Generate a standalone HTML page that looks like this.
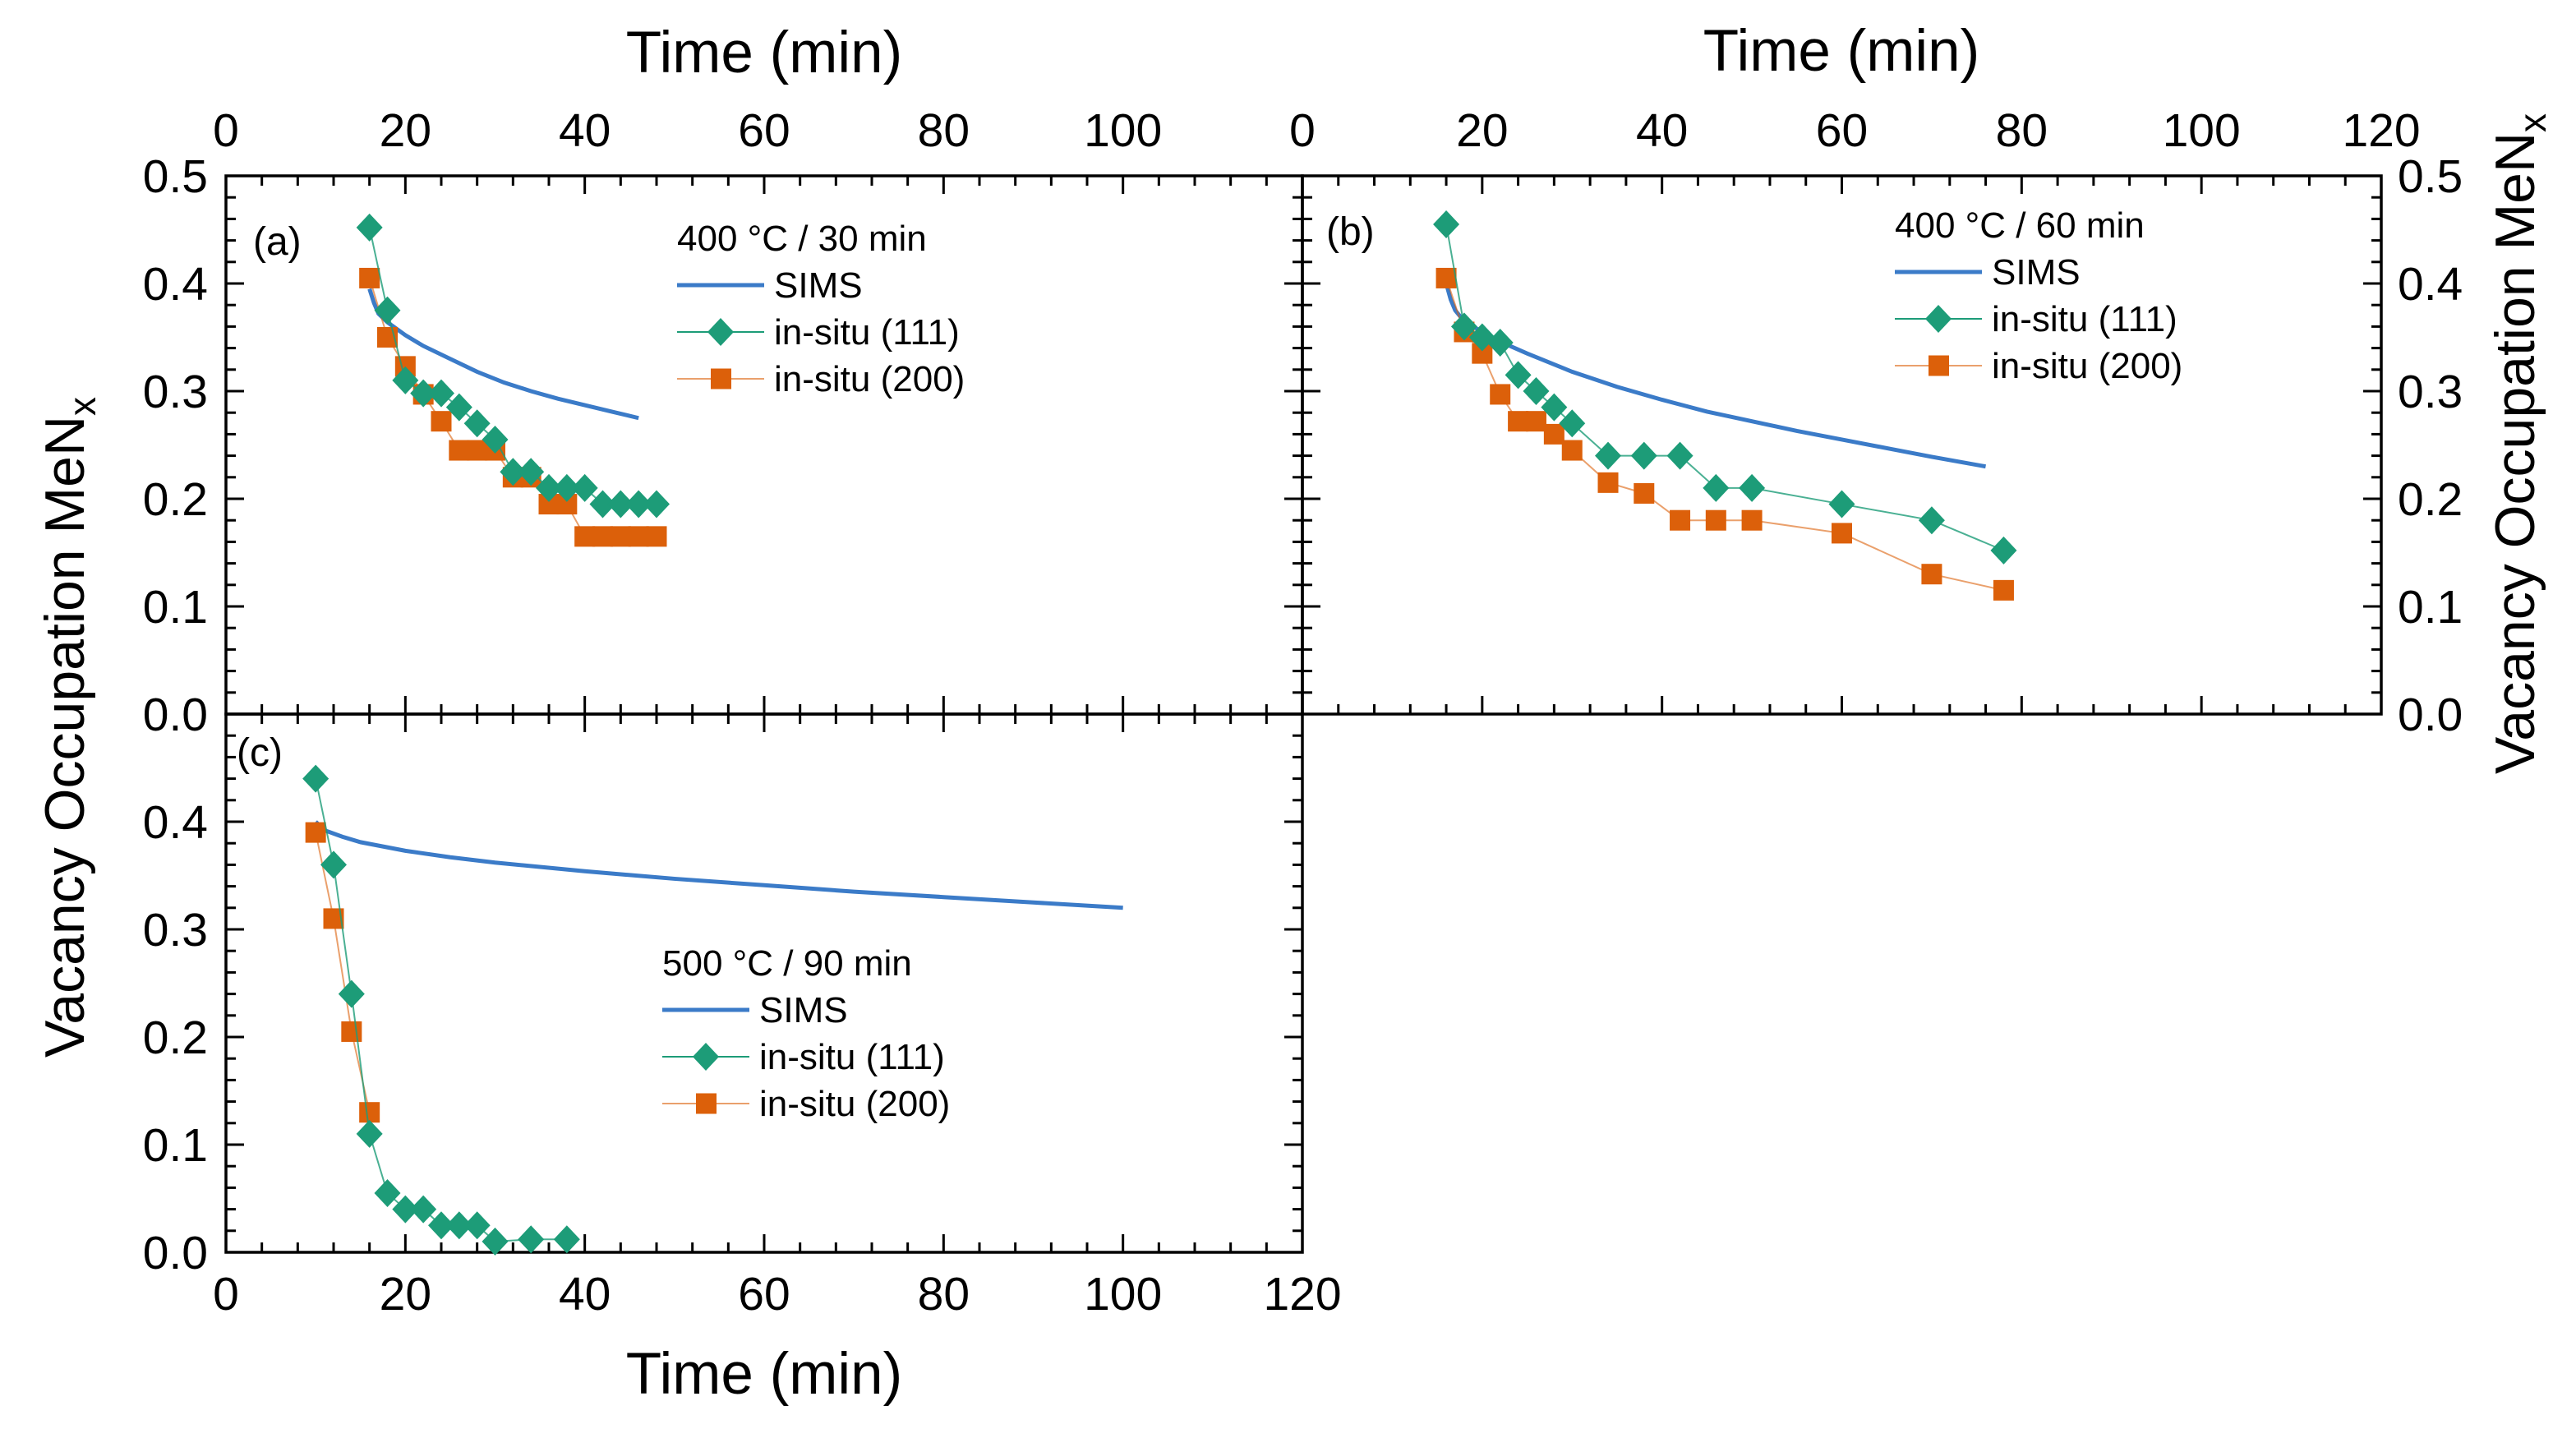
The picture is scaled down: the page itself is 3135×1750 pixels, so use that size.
<!DOCTYPE html>
<html><head><meta charset="utf-8">
<style>
html,body{margin:0;padding:0;background:#fff;}
svg{display:block;font-family:"Liberation Sans",Arial,sans-serif;}
</style></head>
<body>
<svg id="chart" width="3135" height="1750" viewBox="0 0 3135 1750" xmlns="http://www.w3.org/2000/svg">
<g id="root"></g>
</svg>
<script>
// ---- data ----
const aT111=[16,18,20,22,24,26,28,30,32,34,36,38,40,42,44,46,48];
const aY111=[0.452,0.375,0.31,0.298,0.298,0.285,0.27,0.255,0.225,0.225,0.21,0.21,0.21,0.195,0.195,0.195,0.195];
const aT200=[16,18,20,22,24,26,28,30,32,34,36,38,40,42,44,46,48];
const aY200=[0.405,0.35,0.323,0.297,0.272,0.245,0.245,0.245,0.22,0.22,0.195,0.195,0.165,0.165,0.165,0.165,0.165];
const aTs=[16,16.5,17,18,20,22,25,28,31,34,37,40,43,46];
const aYs=[0.395,0.382,0.372,0.364,0.352,0.342,0.330,0.318,0.308,0.300,0.293,0.287,0.281,0.275];

const bT111=[16,18,20,22,24,26,28,30,34,38,42,46,50,60,70,78];
const bY111=[0.455,0.36,0.35,0.345,0.315,0.30,0.285,0.27,0.24,0.24,0.24,0.21,0.21,0.195,0.18,0.152];
const bT200=[16,18,20,22,24,26,28,30,34,38,42,46,50,60,70,78];
const bY200=[0.405,0.355,0.335,0.297,0.272,0.272,0.26,0.245,0.215,0.205,0.18,0.18,0.18,0.168,0.13,0.115];
const bTs=[16,16.5,17,18,20,22,25,30,35,40,45,50,55,60,65,70,76];
const bYs=[0.40,0.385,0.375,0.365,0.355,0.346,0.335,0.318,0.304,0.292,0.281,0.272,0.263,0.255,0.247,0.239,0.230];

const cT111=[10,12,14,16,18,20,22,24,26,28,30,34,38];
const cY111=[0.44,0.36,0.24,0.11,0.055,0.04,0.04,0.025,0.025,0.025,0.01,0.012,0.012];
const cT200=[10,12,14,16];
const cY200=[0.39,0.31,0.205,0.13];
const cTs=[10,11,13,15,20,25,30,40,50,60,70,80,90,100];
const cYs=[0.40,0.392,0.386,0.381,0.373,0.367,0.362,0.354,0.347,0.341,0.335,0.330,0.325,0.320];

const xTicks=[0,20,40,60,80,100,120];
const yTicks=[0.0,0.1,0.2,0.3,0.4,0.5];
const yTicksC=[0.0,0.1,0.2,0.3,0.4];

const BLUE="#3b7bc8",GREEN="#1d9c78",ORANGE="#dc600a";
const NS="http://www.w3.org/2000/svg";
const root=document.getElementById('root');
function el(tag,attrs,parent){const e=document.createElementNS(NS,tag);for(const k in attrs)e.setAttribute(k,attrs[k]);(parent||root).appendChild(e);return e;}

function panel(id,L,T,W,H,opts){
  const g=el('g',{});
  
  
  const sx=v=>L+v/120*W, sy=v=>T+H-v/0.5*H;
  for(let v=0;v<=120;v+=4){
    const maj=v%20===0, len=maj?22:12;
    el('line',{x1:sx(v),y1:T+H,x2:sx(v),y2:T+H-len,stroke:'#000','stroke-width':3},g);
    el('line',{x1:sx(v),y1:T,x2:sx(v),y2:T+len,stroke:'#000','stroke-width':3},g);
  }
  for(let i=0;i<=25;i++){
    const v=i*0.02, maj=i%5===0, len=maj?22:12;
    el('line',{x1:L,y1:sy(v),x2:L+len,y2:sy(v),stroke:'#000','stroke-width':3},g);
    el('line',{x1:L+W,y1:sy(v),x2:L+W-len,y2:sy(v),stroke:'#000','stroke-width':3},g);
  }
  el('rect',{x:L,y:T,width:W,height:H,fill:'none',stroke:'#000','stroke-width':3.5},g);
  const FS=57;
  if(opts.topLabels){opts.topLabels.forEach(v=>{const t=el('text',{x:sx(v),y:178,'font-size':FS,'text-anchor':'middle'},g);t.textContent=v;});}
  if(opts.bottomLabels){xTicks.forEach(v=>{const t=el('text',{x:sx(v),y:1594,'font-size':FS,'text-anchor':'middle'},g);t.textContent=v;});}
  if(opts.leftLabels){opts.leftLabels.forEach(v=>{const t=el('text',{x:L-22,y:sy(v)+20,'font-size':FS,'text-anchor':'end'},g);t.textContent=v.toFixed(1);});}
  if(opts.rightLabels){yTicks.forEach(v=>{const t=el('text',{x:L+W+20,y:sy(v)+20,'font-size':FS,'text-anchor':'start'},g);t.textContent=v.toFixed(1);});}
  const pts=(xs,ys)=>xs.map((x,i)=>sx(x)+','+sy(ys[i])).join(' ');
  const s=el('polyline',{points:pts(opts.ts,opts.ys),fill:'none',stroke:BLUE,'stroke-width':5},g);
  
  
  const l2=el('polyline',{points:pts(opts.t200,opts.y200),fill:'none',stroke:ORANGE,'stroke-width':2,'stroke-opacity':0.6},g);
  
  
  opts.t200.forEach((x,i)=>{const r=el('rect',{x:sx(x)-12.5,y:sy(opts.y200[i])-12.5,width:25,height:25,fill:ORANGE},g);
    
    });
  const l1=el('polyline',{points:pts(opts.t111,opts.y111),fill:'none',stroke:GREEN,'stroke-width':2,'stroke-opacity':0.8},g);
  
  
  opts.t111.forEach((x,i)=>{const cx=sx(x),cy=sy(opts.y111[i]);const p=el('polygon',{points:`${cx},${cy-17} ${cx+16},${cy} ${cx},${cy+17} ${cx-16},${cy}`,fill:GREEN},g);
    
    });
  const pl=el('text',{x:opts.lab[0],y:opts.lab[1],'font-size':48},g);pl.textContent='('+id+')';
  
  
  const lg=el('g',{},g);
  
  
  const [lx,ly,dy]=opts.leg;
  const LF=44;
  const tt=el('text',{x:lx,y:ly+15,'font-size':LF},lg);tt.textContent=opts.title;
  const r1=ly+dy,r2=ly+2*dy,r3=ly+3*dy;
  el('line',{x1:lx,y1:r1,x2:lx+106,y2:r1,stroke:BLUE,'stroke-width':5},lg);
  el('text',{x:lx+118,y:r1+15,'font-size':LF},lg).textContent='SIMS';
  el('line',{x1:lx,y1:r2,x2:lx+106,y2:r2,stroke:GREEN,'stroke-width':2},lg);
  el('polygon',{points:`${lx+53},${r2-17} ${lx+69},${r2} ${lx+53},${r2+17} ${lx+37},${r2}`,fill:GREEN},lg);
  el('text',{x:lx+118,y:r2+15,'font-size':LF},lg).textContent='in-situ (111)';
  el('line',{x1:lx,y1:r3,x2:lx+106,y2:r3,stroke:ORANGE,'stroke-width':2,'stroke-opacity':0.6},lg);
  el('rect',{x:lx+41,y:r3-12.5,width:25,height:25,fill:ORANGE},lg);
  el('text',{x:lx+118,y:r3+15,'font-size':LF},lg).textContent='in-situ (200)';
}

panel('a',275,214,1310,655,{topLabels:[0,20,40,60,80,100],leftLabels:yTicks,ts:aTs,ys:aYs,t111:aT111,y111:aY111,t200:aT200,y200:aY200,lab:[308,310],leg:[824,290,57],title:'400 °C / 30 min'});
panel('b',1585,214,1313,655,{topLabels:xTicks,rightLabels:true,ts:bTs,ys:bYs,t111:bT111,y111:bY111,t200:bT200,y200:bY200,lab:[1614,298],leg:[2306,274,57],title:'400 °C / 60 min'});
panel('c',275,869,1310,655,{bottomLabels:true,leftLabels:yTicksC,ts:cTs,ys:cYs,t111:cT111,y111:cY111,t200:cT200,y200:cY200,lab:[288,932],leg:[806,1172,57],title:'500 °C / 90 min'});

let t;
t=el('text',{x:930,y:88,'font-size':71,'text-anchor':'middle'});t.textContent='Time (min)';


t=el('text',{x:2241,y:86,'font-size':71,'text-anchor':'middle'});t.textContent='Time (min)';


t=el('text',{x:930,y:1696,'font-size':71,'text-anchor':'middle'});t.textContent='Time (min)';


t=el('text',{x:0,y:0,'font-size':68,'text-anchor':'middle',transform:'translate(102,885) rotate(-90)'});
t.innerHTML='Vacancy Occupation MeN<tspan font-size="46" dy="14">x</tspan>';


t=el('text',{x:0,y:0,'font-size':68,'text-anchor':'middle',transform:'translate(3084,540) rotate(-90)'});
t.innerHTML='Vacancy Occupation MeN<tspan font-size="46" dy="14">x</tspan>';


</script>
</body></html>
